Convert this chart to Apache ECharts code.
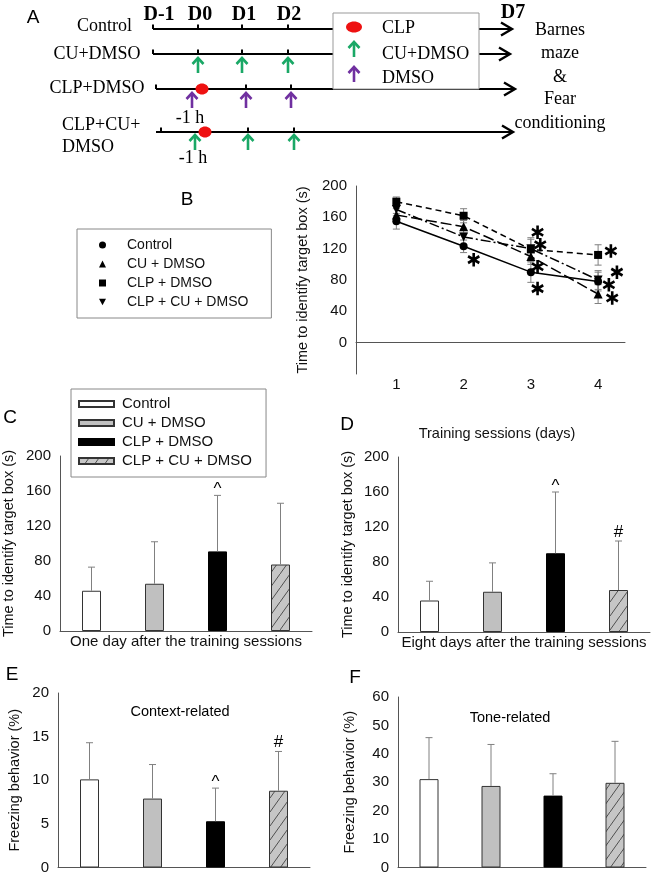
<!DOCTYPE html>
<html><head><meta charset="utf-8">
<script src="https://cdn.jsdelivr.net/npm/echarts@6/dist/echarts.min.js"></script>
<style>html,body{margin:0;padding:0;background:#fff}#c{width:651px;height:875px}</style>
</head><body><div id="c"></div>
<script>
// ---------------- data ----------------
const groups = ['Control', 'CU + DMSO', 'CLP + DMSO', 'CLP + CU + DMSO'];
const days = [1, 2, 3, 4];
// Panel B (mean, sem)
const bControl = [155, 123, 90, 78];   const bControlErr = [10, 8, 13, 12];
const bCU = [163, 148, 110, 62];       const bCUErr = [8, 8, 10, 12];
const bCLP = [180, 162, 119, 112];     const bCLPErr = [6, 9, 15, 13];
const bCLPCU = [170, 135, 120, 80];    const bCLPCUErr = [8, 10, 12, 12];
const bStars = [[2.15, 106], [3.1, 141], [3.14, 125], [3.1, 97], [3.1, 69], [4.19, 117], [4.28, 90], [4.16, 74], [4.21, 57]];
// Panel C
const cMeans = [46, 54, 91, 76];     const cTops = [73, 102, 155, 146];   const cMarks = ['', '', '^', ''];
// Panel D
const dMeans = [36, 46, 90, 48];     const dTops = [58, 79, 160, 104];    const dMarks = ['', '', '^', '#'];
// Panel E
const eMeans = [10.1, 7.9, 5.3, 8.8]; const eTops = [14.3, 11.8, 9.1, 13.3]; const eMarks = ['', '', '^', '#'];
// Panel F
const fMeans = [31.1, 28.7, 25.3, 29.8]; const fTops = [45.7, 43.3, 33.0, 44.4]; const fMarks = ['', '', '', ''];

// ---------------- styles ----------------
const SANS = '"Liberation Sans", Arial, sans-serif';
const SERIF = '"Liberation Serif", "Times New Roman", serif';
const AXC = '#555';
function hatch() {
  const c = document.createElement('canvas'); c.width = 10; c.height = 14;
  const g = c.getContext('2d');
  g.fillStyle = '#c6c6c6'; g.fillRect(0, 0, 10, 14);
  g.strokeStyle = '#505050'; g.lineWidth = 1;
  g.beginPath(); g.moveTo(-1, 15.4); g.lineTo(11, -1.4); g.stroke();
  return c;
}
const barStyles = [
  { color: '#ffffff', borderColor: '#333', borderWidth: 1 },
  { color: '#c0c0c0', borderColor: '#333', borderWidth: 1 },
  { color: '#000000', borderColor: '#000', borderWidth: 1 },
  { color: { image: hatch(), repeat: 'repeat' }, borderColor: '#333', borderWidth: 1 }
];
const STAR = 'path://M-1.2,-6L1.2,-6L1.2,6L-1.2,6Z' +
  'M-5.796,-1.961L-4.596,-4.039L5.796,1.961L4.596,4.039Z' +
  'M4.596,-4.039L5.796,-1.961L-4.596,4.039L-5.796,1.961Z';

const chart = echarts.init(document.getElementById('c'), null, { renderer: 'canvas', width: 651, height: 875 });

const grids = [
  { left: 356, top: 186, width: 269, height: 188 },
  { left: 59, top: 456, width: 253, height: 175 },
  { left: 398, top: 457, width: 252, height: 175 },
  { left: 58, top: 693, width: 252, height: 177 },
  { left: 398, top: 697, width: 248, height: 173 }
];

const axisLineCommon = { show: true, lineStyle: { color: AXC, width: 1 } };
const yLabel = { color: '#111', fontSize: 15, fontFamily: SANS, margin: 9 };
const nameStyle = { color: '#111', fontSize: 14.5, fontFamily: SANS };

const xAxes = [
  { type: 'value', gridIndex: 0, min: 0.4, max: 4.4, splitLine: { show: false }, axisTick: { show: false },
    axisLine: axisLineCommon,
    axisLabel: { customValues: days, color: '#111', fontSize: 15, fontFamily: SANS, margin: 3 },
    name: 'Training sessions (days)', nameLocation: 'middle', nameGap: 52,
    nameTextStyle: Object.assign({ padding: [0, 0, 0, 13] }, nameStyle) }
];
const xNames = ['One day after the training sessions', 'Eight days after the training sessions', '', ''];
for (let p = 1; p <= 4; p++) {
  xAxes.push({ type: 'category', gridIndex: p, data: groups, axisTick: { show: false }, axisLabel: { show: false },
    axisLine: axisLineCommon, name: xNames[p - 1], nameLocation: 'middle', nameGap: 3,
    nameTextStyle: { color: '#111', fontSize: 15, fontFamily: SANS } });
}
const yAxes = [
  { type: 'value', gridIndex: 0, min: -40, max: 200, interval: 40, splitLine: { show: false }, axisTick: { show: false },
    axisLine: axisLineCommon, axisLabel: Object.assign({ formatter: v => (v < 0 ? '' : v) }, yLabel),
    name: 'Time to identify target box (s)', nameLocation: 'middle', nameRotate: 90, nameGap: 46, nameTextStyle: nameStyle },
  { type: 'value', gridIndex: 1, min: 0, max: 200, interval: 40, splitLine: { show: false }, axisTick: { show: false },
    axisLine: axisLineCommon, axisLabel: yLabel,
    name: 'Time to identify target box (s)', nameLocation: 'middle', nameRotate: 90, nameGap: 44, nameTextStyle: nameStyle },
  { type: 'value', gridIndex: 2, min: 0, max: 200, interval: 40, splitLine: { show: false }, axisTick: { show: false },
    axisLine: axisLineCommon, axisLabel: yLabel,
    name: 'Time to identify target box (s)', nameLocation: 'middle', nameRotate: 90, nameGap: 43, nameTextStyle: nameStyle },
  { type: 'value', gridIndex: 3, min: 0, max: 20, interval: 5, splitLine: { show: false }, axisTick: { show: false },
    axisLine: axisLineCommon, axisLabel: yLabel,
    name: 'Freezing behavior (%)', nameLocation: 'middle', nameRotate: 90, nameGap: 36, nameTextStyle: nameStyle },
  { type: 'value', gridIndex: 4, min: 0, max: 60, interval: 10, splitLine: { show: false }, axisTick: { show: false },
    axisLine: axisLineCommon, axisLabel: yLabel,
    name: 'Freezing behavior (%)', nameLocation: 'middle', nameRotate: 90, nameGap: 41, nameTextStyle: nameStyle }
];

// ---------------- series ----------------
const series = [];
const bSets = [
  [bControl, bControlErr], [bCU, bCUErr], [bCLP, bCLPErr], [bCLPCU, bCLPCUErr]
];
const bErrData = [];
bSets.forEach(([m, e]) => days.forEach((d, i) => bErrData.push([d, m[i] - e[i], m[i] + e[i]])));
series.push({
  type: 'custom', xAxisIndex: 0, yAxisIndex: 0, z: 1, data: bErrData, silent: true,
  renderItem: (params, api) => {
    const lo = api.coord([api.value(0), api.value(1)]);
    const hi = api.coord([api.value(0), api.value(2)]);
    const st = { stroke: '#808080', lineWidth: 1 };
    return { type: 'group', children: [
      { type: 'line', shape: { x1: lo[0], y1: lo[1], x2: hi[0], y2: hi[1] }, style: st },
      { type: 'line', shape: { x1: lo[0] - 3.5, y1: lo[1], x2: lo[0] + 3.5, y2: lo[1] }, style: st },
      { type: 'line', shape: { x1: hi[0] - 3.5, y1: hi[1], x2: hi[0] + 3.5, y2: hi[1] }, style: st }
    ] };
  }
});
const downTri = 'path://M0,0L10,0L5,9Z';
const bLineDefs = [
  { vals: bControl, symbol: 'circle', size: 8, type: 'solid' },
  { vals: bCU, symbol: 'triangle', size: 9, type: [11, 4] },
  { vals: bCLP, symbol: 'rect', size: 8, type: [6, 4] },
  { vals: bCLPCU, symbol: downTri, size: 9, type: [10, 3, 2, 3] }
];
bLineDefs.forEach((d, g) => {
  series.push({
    type: 'line', name: 'B|' + groups[g], xAxisIndex: 0, yAxisIndex: 0, z: 3,
    data: days.map((x, i) => [x, d.vals[i]]), symbol: d.symbol, symbolSize: d.size,
    itemStyle: { color: '#000' }, lineStyle: { color: '#000', width: 1.5, type: d.type },
    showAllSymbol: true, animation: false
  });
});
series.push({
  type: 'scatter', xAxisIndex: 0, yAxisIndex: 0, z: 4, symbol: STAR, symbolSize: [13, 13.5], symbolKeepAspect: true,
  data: bStars, silent: true, itemStyle: { color: '#000', opacity: 1 }
});

// bar panels
const panels = [
  { p: 'C', means: cMeans, tops: cTops, marks: cMarks },
  { p: 'D', means: dMeans, tops: dTops, marks: dMarks },
  { p: 'E', means: eMeans, tops: eTops, marks: eMarks },
  { p: 'F', means: fMeans, tops: fTops, marks: fMarks }
];
panels.forEach((pn, k) => {
  const ax = k + 1;
  groups.forEach((gname, g) => {
    series.push({
      type: 'bar', name: pn.p + '|' + gname, xAxisIndex: ax, yAxisIndex: ax, barWidth: 19, barGap: '-100%', z: 2,
      data: pn.means.map((v, i) => (i === g ? v : '-')), itemStyle: barStyles[g], animation: false
    });
  });
  series.push({
    type: 'custom', xAxisIndex: ax, yAxisIndex: ax, z: 3, silent: true,
    data: pn.means.map((m, i) => [i, m, pn.tops[i]]),
    renderItem: (params, api) => {
      const b = api.coord([api.value(0), api.value(1)]);
      const t = api.coord([api.value(0), api.value(2)]);
      const st = { stroke: '#808080', lineWidth: 1 };
      const mk = pn.marks[params.dataIndex];
      const ch = [
        { type: 'line', shape: { x1: b[0], y1: b[1], x2: t[0], y2: t[1] }, style: st },
        { type: 'line', shape: { x1: t[0] - 3.5, y1: t[1], x2: t[0] + 3.5, y2: t[1] }, style: st }
      ];
      if (mk) ch.push({ type: 'text', x: t[0], y: t[1] - 9 + (mk === '^' ? 3 : 0),
        style: { text: mk, fill: '#000', font: '17px ' + SANS, align: 'center', verticalAlign: 'middle', textAlign: 'center', textVerticalAlign: 'middle' } });
      return { type: 'group', children: ch };
    }
  });
});

// ---------------- graphic (panel A schematic, letters, captions) ----------------
const G = [];
function T(text, x, y, font, align, fill) {
  G.push({ type: 'text', x: x, y: y, z: 10, silent: true,
    style: { text: text, font: font, fill: fill || '#000', align: align || 'center', verticalAlign: 'middle',
      textAlign: align || 'center', textVerticalAlign: 'middle' } });
}
function PL(points, stroke, lw, z) {
  G.push({ type: 'polyline', z: z || 10, silent: true, shape: { points: points }, style: { stroke: stroke, lineWidth: lw, fill: null } });
}
function ARR(x, tip, bottom, color, z) {
  PL([[x, bottom], [x, tip + 1]], color, 2.6, z);
  PL([[x - 5.5, tip + 6], [x, tip], [x + 5.5, tip + 6]], color, 2.6, z);
}
const GREEN = '#1aa866', PURPLE = '#7030a0', RED = '#ee1111';
const RF = '18px ' + SERIF, BF = 'bold 20px ' + SERIF;

const rowsA = [
  { y: 29, x0: 153, x1: 512, ticks: [153, 198, 242, 288] },
  { y: 54, x0: 153, x1: 510, ticks: [153, 198, 242, 288] },
  { y: 89, x0: 156, x1: 515, ticks: [156, 202, 246, 291] },
  { y: 132, x0: 156, x1: 513, ticks: [161, 205, 248, 294] }
];
rowsA.forEach(r => {
  PL([[r.x0, r.y], [r.x1, r.y]], '#000', 2.2, 5);
  r.ticks.forEach(t => PL([[t, r.y - 4.5], [t, r.y]], '#000', 2, 5));
  PL([[r.x1 - 11, r.y - 6.5], [r.x1, r.y], [r.x1 - 11, r.y + 6.5]], '#000', 2.4, 5);
});
T('Control', 104.5, 26, RF); T('CU+DMSO', 97, 54, RF); T('CLP+DMSO', 97, 88, RF);
T('CLP+CU+', 62, 125, RF, 'left'); T('DMSO', 62, 147, RF, 'left');
T('D-1', 159, 15, BF); T('D0', 200, 15, BF); T('D1', 244, 15, BF); T('D2', 289, 15, BF); T('D7', 513, 13, BF);
T('-1 h', 190, 118, RF); T('-1 h', 193, 158, RF);
[198, 242, 288].forEach(x => ARR(x, 58, 73, GREEN));
[192, 246, 291].forEach(x => ARR(x, 93, 108, PURPLE));
[195, 248, 294].forEach(x => ARR(x, 135, 150, GREEN));
G.push({ type: 'ellipse', z: 11, silent: true, shape: { cx: 202, cy: 89, rx: 6.5, ry: 5.5 }, style: { fill: RED } });
G.push({ type: 'ellipse', z: 11, silent: true, shape: { cx: 205, cy: 132, rx: 6.5, ry: 5.5 }, style: { fill: RED } });
G.push({ type: 'rect', z: 20, silent: true, shape: { x: 333, y: 13, width: 146, height: 76 }, style: { fill: '#fff', stroke: '#999', lineWidth: 1 } });
G.push({ type: 'ellipse', z: 21, silent: true, shape: { cx: 354, cy: 27, rx: 8, ry: 5.5 }, style: { fill: RED } });
ARR(354, 42, 57, GREEN, 21); ARR(354, 67, 82, PURPLE, 21);
[['CLP', 28], ['CU+DMSO', 54], ['DMSO', 78]].forEach(([t, y]) => G.push({ type: 'text', x: 382, y: y, z: 21, silent: true,
  style: { text: t, font: RF, fill: '#000', align: 'left', verticalAlign: 'middle', textAlign: 'left', textVerticalAlign: 'middle' } }));
[['Barnes', 30], ['maze', 53], ['&', 77], ['Fear', 99], ['conditioning', 123]].forEach(([t, y]) => T(t, 560, y, RF));

const LF = '19px ' + SANS;
T('A', 33, 18, LF); T('B', 187, 200, LF); T('C', 10, 418, LF); T('D', 347, 425, LF); T('E', 12, 675, LF); T('F', 355, 678, LF);
T('Context-related', 180, 712, '14.5px ' + SANS); T('Tone-related', 510, 718, '14.5px ' + SANS);

const option = {
  animation: false,
  backgroundColor: '#fff',
  grid: grids,
  xAxis: xAxes,
  yAxis: yAxes,
  legend: [
    { orient: 'vertical', left: 77, top: 229, data: [
        { name: 'B|' + groups[0], icon: 'circle' }, { name: 'B|' + groups[1], icon: 'triangle' },
        { name: 'B|' + groups[2], icon: 'rect' }, { name: 'B|' + groups[3], icon: downTri }],
      formatter: n => n.split('|')[1], itemWidth: 7, itemHeight: 7, itemGap: 5,
      borderColor: '#888', borderWidth: 1, padding: [9, 23, 9, 22], selectedMode: false,
      itemStyle: { color: '#000' },
      textStyle: { fontSize: 14, fontFamily: SANS, color: '#111', lineHeight: 14, padding: [0, 0, 0, 16] } },
    { orient: 'vertical', left: 71, top: 389, data: groups.map(g => 'C|' + g), icon: 'rect',
      formatter: n => n.split('|')[1], itemWidth: 35, itemHeight: 6, itemGap: 4,
      borderColor: '#888', borderWidth: 1, padding: [7.5, 14, 8.5, 7], selectedMode: false,
      textStyle: { fontSize: 15, fontFamily: SANS, color: '#111', lineHeight: 15, padding: [0, 0, 0, 3] } }
  ],
  series: series,
  graphic: { elements: G }
};
chart.setOption(option);
</script>
</body></html>
